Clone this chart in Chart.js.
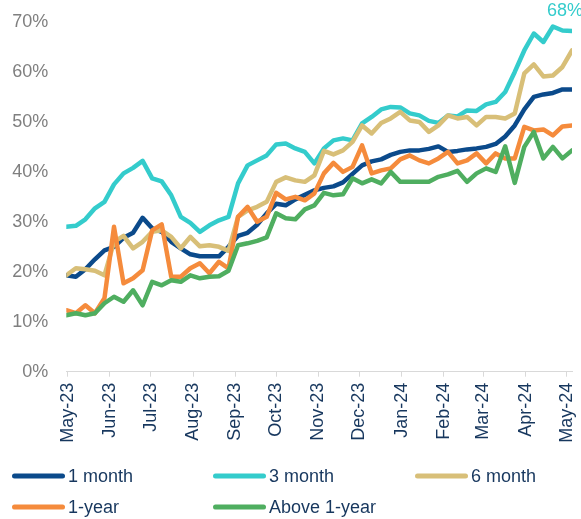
<!DOCTYPE html>
<html>
<head>
<meta charset="utf-8">
<script src="https://cdn.jsdelivr.net/npm/chart.js@4.4.1/dist/chart.umd.min.js"></script>
<style>
  html, body { margin: 0; padding: 0; background: #fff; }
  #wrap { position: relative; width: 581px; height: 519px; }
  #legend { position: absolute; left: 0; top: 0; width: 581px; height: 519px; pointer-events: none;
            font-family: "Liberation Sans", Arial, sans-serif; font-size: 18px; color: #17375e; }
  .item { position: absolute; display: flex; align-items: center; white-space: nowrap; transform: translateY(-50%); }
  .swatch { width: 53px; height: 5px; border-radius: 3px; margin-right: 3px; }
</style>
</head>
<body>
<div id="wrap">
  <canvas id="chart" width="581" height="519"></canvas>
  <div id="legend"></div>
</div>
<script>
// weekly observation dates
const weeks = [
  "2023-04-30", "2023-05-07", "2023-05-14", "2023-05-21", "2023-05-28", "2023-06-04", "2023-06-11", "2023-06-18",
  "2023-06-25", "2023-07-02", "2023-07-09", "2023-07-16", "2023-07-23", "2023-07-30", "2023-08-06", "2023-08-13",
  "2023-08-20", "2023-08-27", "2023-09-03", "2023-09-10", "2023-09-17", "2023-09-24", "2023-10-01", "2023-10-08",
  "2023-10-15", "2023-10-22", "2023-10-29", "2023-11-05", "2023-11-12", "2023-11-19", "2023-11-26", "2023-12-03",
  "2023-12-10", "2023-12-17", "2023-12-24", "2023-12-31", "2024-01-07", "2024-01-14", "2024-01-21", "2024-01-28",
  "2024-02-04", "2024-02-11", "2024-02-18", "2024-02-25", "2024-03-03", "2024-03-10", "2024-03-17", "2024-03-24",
  "2024-03-31", "2024-04-07", "2024-04-14", "2024-04-21", "2024-04-28", "2024-05-05"
];

// month tick marks on the x axis
const monthTicks = [
  "2023-05-01", "2023-06-01", "2023-07-01", "2023-08-01", "2023-09-01", "2023-10-01", "2023-11-01",
  "2023-12-01", "2024-01-01", "2024-02-01", "2024-03-01", "2024-04-01", "2024-05-01"
];
const monthLabels = ["May-23", "Jun-23", "Jul-23", "Aug-23", "Sep-23", "Oct-23", "Nov-23",
  "Dec-23", "Jan-24", "Feb-24", "Mar-24", "Apr-24", "May-24"];

const yTicks = [0, 10, 20, 30, 40, 50, 60, 70];

const seriesNames = ["1 month", "3 month", "6 month", "1-year", "Above 1-year"];
const seriesColors = ["#0b4a8b", "#34cccc", "#d8bf78", "#f58b3c", "#4fae60"];

const oneMonth = [
  19.3, 19.0, 20.5, 22.5, 24.3, 25.0, 26.8, 27.8, 30.8, 28.7,
  28.0, 26.0, 24.7, 23.5, 23.1, 23.1, 23.1, 25.0, 27.2, 27.8,
  29.4, 31.7, 33.6, 33.3, 34.5, 35.4, 36.3, 36.8, 37.1, 37.9,
  39.6, 41.3, 42.1, 42.5, 43.4, 44.0, 44.3, 44.3, 44.6, 45.1,
  44.0, 44.2, 44.5, 44.7, 45.0, 45.6, 47.1, 49.3, 52.5, 55.0,
  55.5, 55.8, 56.5, 56.5
];
const threeMonth = [
  29.0, 29.2, 30.5, 32.7, 34.0, 37.5, 39.7, 40.8, 42.2, 38.7,
  38.1, 35.3, 31.0, 29.8, 28.0, 29.3, 30.3, 31.0, 37.7, 41.3,
  42.3, 43.3, 45.5, 45.7, 44.7, 44.0, 41.7, 44.7, 46.3, 46.7,
  46.3, 49.7, 51.0, 52.5, 53.0, 52.9, 51.7, 51.3, 50.2, 49.8,
  51.3, 51.1, 52.3, 52.2, 53.5, 54.0, 56.0, 60.0, 64.3, 67.7,
  66.0, 69.1, 68.3, 68.2
];
const sixMonth = [
  19.3, 20.7, 20.5, 20.2, 19.3, 26.0, 27.2, 24.7, 26.0, 28.0,
  28.3, 27.0, 24.7, 27.0, 25.1, 25.3, 25.0, 24.2, 31.0, 32.3,
  33.0, 34.0, 38.0, 38.9, 38.3, 38.0, 39.3, 44.2, 43.5, 44.3,
  46.0, 49.3, 47.7, 49.8, 50.7, 52.0, 50.3, 50.0, 48.0, 49.3,
  51.3, 50.7, 51.0, 49.3, 51.0, 51.0, 50.7, 51.7, 59.7, 61.5,
  59.1, 59.3, 61.0, 64.3
];
const oneYear = [
  12.3, 11.7, 13.3, 11.7, 14.7, 29.0, 17.7, 18.7, 20.3, 28.3,
  29.5, 19.0, 19.0, 20.7, 21.7, 19.7, 22.0, 20.7, 31.0, 33.0,
  30.0, 31.0, 35.8, 34.5, 35.0, 34.3, 35.7, 39.7, 41.8, 40.0,
  41.0, 45.3, 39.7, 40.3, 40.7, 42.5, 43.3, 42.3, 41.7, 42.7,
  44.0, 41.7, 42.3, 43.7, 41.7, 43.7, 42.7, 42.7, 49.0, 48.3,
  48.5, 47.3, 49.1, 49.3
];
const aboveOneYear = [
  11.3, 11.7, 11.3, 11.7, 13.7, 15.0, 14.0, 16.3, 13.3, 18.0,
  17.3, 18.3, 18.0, 19.3, 18.7, 19.0, 19.1, 20.2, 25.3, 25.7,
  26.2, 26.9, 31.7, 30.7, 30.5, 32.5, 33.3, 35.8, 35.3, 35.5,
  38.7, 37.7, 38.5, 37.7, 40.0, 38.0, 38.0, 38.0, 38.0, 39.0,
  39.5, 40.2, 38.0, 39.7, 40.7, 40.0, 45.1, 37.8, 45.0, 48.0,
  42.7, 45.0, 42.7, 44.3
];
const seriesValues = [oneMonth, threeMonth, sixMonth, oneYear, aboveOneYear];

const FONT = '"Liberation Sans", Arial, sans-serif';
const TEXT = "#17375e";

const origin = Date.UTC(2023, 4, 1);
function dayOf(s) {
  const p = s.split("-");
  return (Date.UTC(+p[0], +p[1] - 1, +p[2]) - origin) / 864e5;
}
const weekX = weeks.map(dayOf);
const tickX = monthTicks.map(dayOf);

// "68%" label at the end of the 3 month line
const endLabel = {
  id: "endLabel",
  afterDatasetsDraw(chart) {
    const meta = chart.getDatasetMeta(1);
    const pt = meta.data[meta.data.length - 1];
    const c = chart.ctx;
    c.save();
    c.font = "18px " + FONT;
    c.fillStyle = seriesColors[1];
    c.textAlign = "left";
    c.textBaseline = "middle";
    c.fillText(Math.round(threeMonth[threeMonth.length - 1]) + "%", pt.x - 25, pt.y - 20);
    c.restore();
  }
};

new Chart(document.getElementById("chart"), {
  type: "line",
  data: {
    datasets: seriesNames.map((name, k) => ({
      label: name,
      data: seriesValues[k].map((v, i) => ({ x: weekX[i], y: v })),
      borderColor: seriesColors[k],
      backgroundColor: seriesColors[k],
      order: seriesNames.length - k
    }))
  },
  options: {
    responsive: false,
    animation: false,
    layout: { padding: { top: 22, right: 9, left: 0, bottom: 0 } },
    plugins: { legend: { display: false }, tooltip: { enabled: false } },
    elements: {
      point: { radius: 0 },
      line: { tension: 0, borderWidth: 4.5, borderCapStyle: "round", borderJoinStyle: "round" }
    },
    scales: {
      x: {
        type: "linear",
        min: weekX[0],
        max: weekX[weekX.length - 1],
        afterBuildTicks: s => { s.ticks = tickX.map(v => ({ value: v })); },
        afterFit: s => { s.height = 147.3; s.paddingLeft = 0; s.paddingRight = 0; },
        grid: { display: true, drawOnChartArea: false, drawTicks: true, tickLength: 5, color: "#d9d9d9" },
        border: { display: true, color: "#d9d9d9" },
        ticks: {
          autoSkip: false, maxRotation: 90, minRotation: 90, padding: 6,
          color: TEXT, font: { family: FONT, size: 18 },
          callback: (v, i) => monthLabels[i]
        }
      },
      y: {
        min: 0,
        max: 70,
        afterBuildTicks: s => { s.ticks = yTicks.map(v => ({ value: v })); },
        afterFit: s => { s.width = 66.3; s.paddingTop = 0; s.paddingBottom = 0; },
        grid: { display: false },
        border: { display: false },
        ticks: { padding: 10, color: "#7f7f7f", font: { family: FONT, size: 18 }, callback: v => v + "%" }
      }
    }
  },
  plugins: [endLabel]
});

// legend, three columns
const legendPos = [[12, 476], [213, 476], [415, 476], [12, 507], [213, 507]];
const legend = document.getElementById("legend");
seriesNames.forEach((name, k) => {
  const item = document.createElement("div");
  item.className = "item";
  item.style.left = legendPos[k][0] + "px";
  item.style.top = legendPos[k][1] + "px";
  item.innerHTML = '<span class="swatch" style="background:' + seriesColors[k] + '"></span><span>' + name + "</span>";
  legend.appendChild(item);
});
</script>
</body>
</html>
